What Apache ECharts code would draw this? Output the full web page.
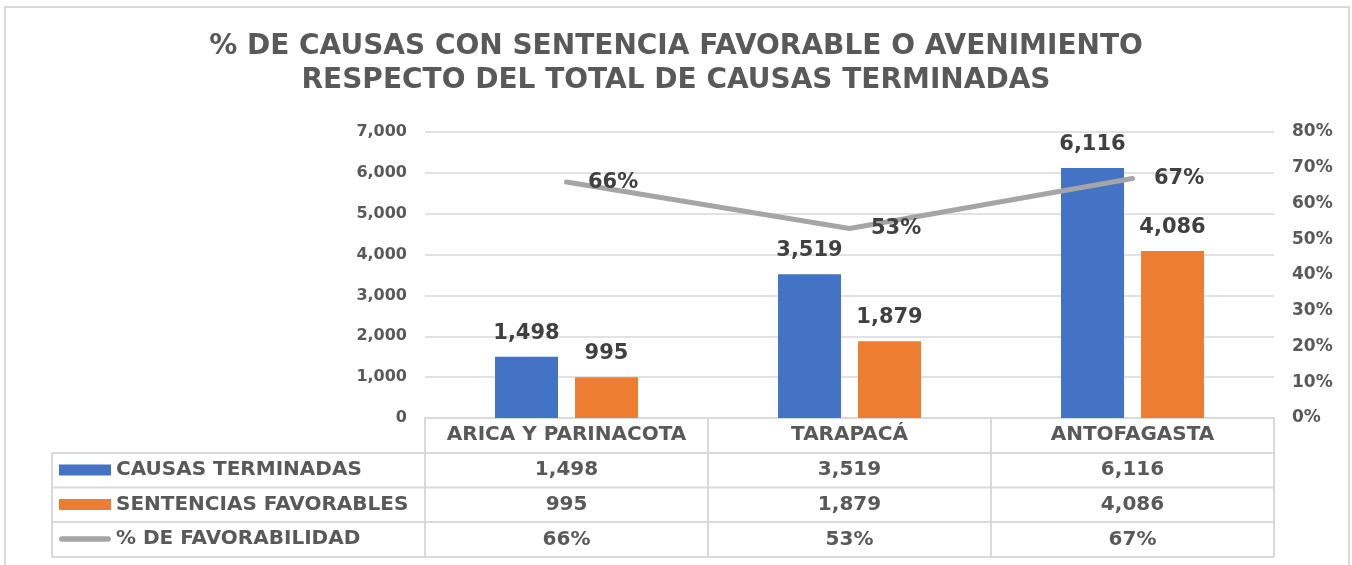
<!DOCTYPE html>
<html>
<head>
<meta charset="utf-8">
<script src="https://cdn.jsdelivr.net/npm/echarts@6/dist/echarts.min.js"></script>
<style>
	html, body { margin: 0; padding: 0; background: #fff; }
	#chart { width: 1352px; height: 565px; }
</style>
</head>
<body>
<div id="chart"></div>
<script>
/*数据*/
var regiones = ['ARICA Y PARINACOTA', 'TARAPACÁ', 'ANTOFAGASTA'];
var causasTerminadas = [1498, 3519, 6116];
var sentenciasFavorables = [995, 1879, 4086];
var favorabilidad = [0.66, 0.53, 0.67];
var nombresSeries = ['CAUSAS TERMINADAS', 'SENTENCIAS FAVORABLES', '% DE FAVORABILIDAD'];

var FONT = 'DejaVu Sans';
var GRIS_TXT = '#595959';
var GRIS_LINEA = '#d9d9d9';

function miles(v) {
	return Number(v).toLocaleString('en-US');
}
function pct(v) {
	return Math.round(v * 100) + '%';
}

/*表格文字样式*/
var txtTabla = {
	interval: 0,
	margin: 7,
	fontFamily: FONT,
	fontWeight: 'bold',
	fontSize: 20,
	lineHeight: 20,
	color: GRIS_TXT
};

/*表格行 (用隐藏的x轴画)*/
function filaEje(offset, fmt) {
	return {
		type: 'category',
		data: regiones,
		position: 'bottom',
		offset: offset,
		axisLine: { show: false },
		axisTick: { show: false },
		splitLine: { show: false },
		axisLabel: Object.assign({ formatter: fmt }, txtTabla)
	};
}

var labelBar = {
	show: true,
	position: 'top',
	distance: 13,
	fontFamily: FONT,
	fontWeight: 'bold',
	fontSize: 21,
	color: '#404040',
	formatter: function(p) { return miles(p.value); }
};

var option = {
	animation: false,
	title: {
		text: '% DE CAUSAS CON SENTENCIA FAVORABLE O AVENIMIENTO\nRESPECTO DEL TOTAL DE CAUSAS TERMINADAS',
		left: 'center',
		top: 30,
		padding: 0,
		textStyle: {
			fontFamily: FONT,
			fontWeight: 'bold',
			fontSize: 28,
			lineHeight: 34,
			color: GRIS_TXT
		}
	},
	legend: {
		orient: 'vertical',
		left: 59,
		top: 460,
		padding: 0,
		itemWidth: 52,
		itemHeight: 11,
		itemGap: 14.5,
		selectedMode: false,
		data: [
			{ name: nombresSeries[0], icon: 'rect' },
			{ name: nombresSeries[1], icon: 'rect' },
			{ name: nombresSeries[2], icon: 'path://M3,0 L54,0 A3,3 0 0 1 54,6 L3,6 A3,3 0 0 1 3,0 Z' }
		],
		textStyle: {
			fontFamily: FONT,
			fontWeight: 'bold',
			fontSize: 20,
			lineHeight: 20,
			color: GRIS_TXT
		}
	},
	grid: {
		left: 425,
		right: 78,
		top: 132,
		bottom: 147
	},
	xAxis: [
		{
			type: 'category',
			data: regiones,
			axisLine: { show: true, lineStyle: { color: GRIS_LINEA, width: 2 } },
			axisTick: { show: true, interval: 0, length: 139, lineStyle: { color: GRIS_LINEA, width: 2 } },
			splitLine: { show: false },
			axisLabel: txtTabla
		},
		filaEje(35, function(v, i) { return miles(causasTerminadas[i]); }),
		filaEje(69.5, function(v, i) { return miles(sentenciasFavorables[i]); }),
		filaEje(104.5, function(v, i) { return pct(favorabilidad[i]); })
	],
	yAxis: [
		{
			type: 'value',
			min: 0,
			max: 7000,
			interval: 1000,
			axisLine: { show: false },
			axisTick: { show: false },
			splitLine: { lineStyle: { color: GRIS_LINEA, width: 1.5 } },
			axisLabel: {
				margin: 18,
				fontFamily: FONT,
				fontWeight: 'bold',
				fontSize: 16,
				color: GRIS_TXT,
				formatter: function(v) { return miles(v); }
			}
		},
		{
			type: 'value',
			min: 0,
			max: 0.8,
			interval: 0.1,
			axisLine: { show: false },
			axisTick: { show: false },
			splitLine: { show: false },
			axisLabel: {
				margin: 18,
				fontFamily: FONT,
				fontWeight: 'bold',
				fontSize: 17,
				color: GRIS_TXT,
				formatter: function(v) { return pct(v); }
			}
		}
	],
	series: [
		{
			name: nombresSeries[0],
			type: 'bar',
			data: causasTerminadas,
			barWidth: 63,
			barGap: '27%',
			itemStyle: { color: '#4472c4' },
			label: labelBar
		},
		{
			name: nombresSeries[1],
			type: 'bar',
			data: sentenciasFavorables,
			barWidth: 63,
			barGap: '27%',
			itemStyle: { color: '#ed7d31' },
			label: labelBar
		},
		{
			name: nombresSeries[2],
			type: 'line',
			yAxisIndex: 1,
			data: favorabilidad,
			symbol: 'circle',
			symbolSize: 1,
			z: 5,
			itemStyle: { color: '#a5a5a5' },
			lineStyle: { color: '#a5a5a5', width: 5, cap: 'round', join: 'round' },
			label: {
				show: true,
				position: 'right',
				distance: 21,
				fontFamily: FONT,
				fontWeight: 'bold',
				fontSize: 21,
				color: '#404040',
				formatter: function(p) { return pct(p.value); }
			}
		}
	],
	graphic: [
		/*外框*/
		{ type: 'rect', shape: { x: 5, y: 7, width: 1344, height: 600 }, style: { fill: null, stroke: GRIS_LINEA, lineWidth: 2 }, silent: true },
		/*表格横线*/
		{ type: 'line', shape: { x1: 52, y1: 453, x2: 1274, y2: 453 }, style: { stroke: GRIS_LINEA, lineWidth: 2 } },
		{ type: 'line', shape: { x1: 52, y1: 487.5, x2: 1274, y2: 487.5 }, style: { stroke: GRIS_LINEA, lineWidth: 2 } },
		{ type: 'line', shape: { x1: 52, y1: 522, x2: 1274, y2: 522 }, style: { stroke: GRIS_LINEA, lineWidth: 2 } },
		{ type: 'line', shape: { x1: 52, y1: 557, x2: 1274, y2: 557 }, style: { stroke: GRIS_LINEA, lineWidth: 2 } },
		{ type: 'line', shape: { x1: 52, y1: 453, x2: 52, y2: 557 }, style: { stroke: GRIS_LINEA, lineWidth: 2 } }
	]
};

var chart = echarts.init(document.getElementById('chart'));
chart.setOption(option);
</script>
</body>
</html>
